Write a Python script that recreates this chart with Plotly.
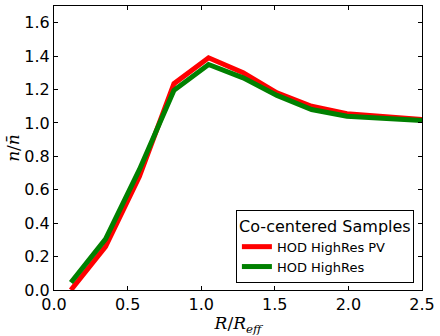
import plotly.graph_objects as go

# radial bins, R / R_eff
r_bins = [0.115, 0.35, 0.58, 0.815, 1.05, 1.285, 1.515, 1.75, 1.99, 2.5]

# normalised number density n / n_bar
pv_density = [0.0, 0.26, 0.68, 1.235, 1.39, 1.30, 1.18, 1.10, 1.055, 1.02]
hod_density = [0.045, 0.305, 0.72, 1.195, 1.35, 1.27, 1.165, 1.08, 1.04, 1.015]

series_names = ["HOD HighRes PV", "HOD HighRes"]
series_colors = ["#ff0000", "#008000"]

fig = go.Figure()
for name, ys, col in zip(series_names, [pv_density, hod_density], series_colors):
    fig.add_trace(go.Scatter(x=r_bins, y=ys, mode="lines", name=name,
                             line=dict(color=col, width=5)))

axis_style = dict(showline=True, linecolor="black", linewidth=1, mirror="ticks",
                  ticks="inside", ticklen=4, tickcolor="black", showgrid=False,
                  zeroline=False, tickfont=dict(family="DejaVu Sans", size=16, color="black"))

fig.update_xaxes(range=[0, 2.5], dtick=0.5, tickformat=".1f",
                 title=dict(text="<i>R</i>/<i>R</i><sub><i>eff</i></sub>",
                            font=dict(family="DejaVu Serif", size=17, color="black"),
                            standoff=2),
                 **axis_style)
fig.update_yaxes(range=[0, 1.7], dtick=0.2, tickformat=".1f",
                 title=dict(text="<i>n</i>/<i>n̄</i>",
                            font=dict(family="DejaVu Serif", size=17, color="black"),
                            standoff=0),
                 **axis_style)

fig.update_layout(
    width=440, height=336,
    margin=dict(l=54, r=18, t=6, b=46),
    plot_bgcolor="white", paper_bgcolor="white",
    showlegend=True,
    legend=dict(x=0.978, y=0.025, xanchor="right", yanchor="bottom",
                bordercolor="black", borderwidth=1, bgcolor="white",
                font=dict(family="DejaVu Sans", size=13, color="black"),
                title=dict(text="Co-centered Samples", side="top center",
                           font=dict(family="DejaVu Sans", size=16, color="black")),
                itemwidth=30, tracegroupgap=0),
)

# drop the browser's default page margin so the figure sits at 0,0
fig.write_html("out.html", config={"displayModeBar": False},
               post_script="document.body.style.margin='0';")
